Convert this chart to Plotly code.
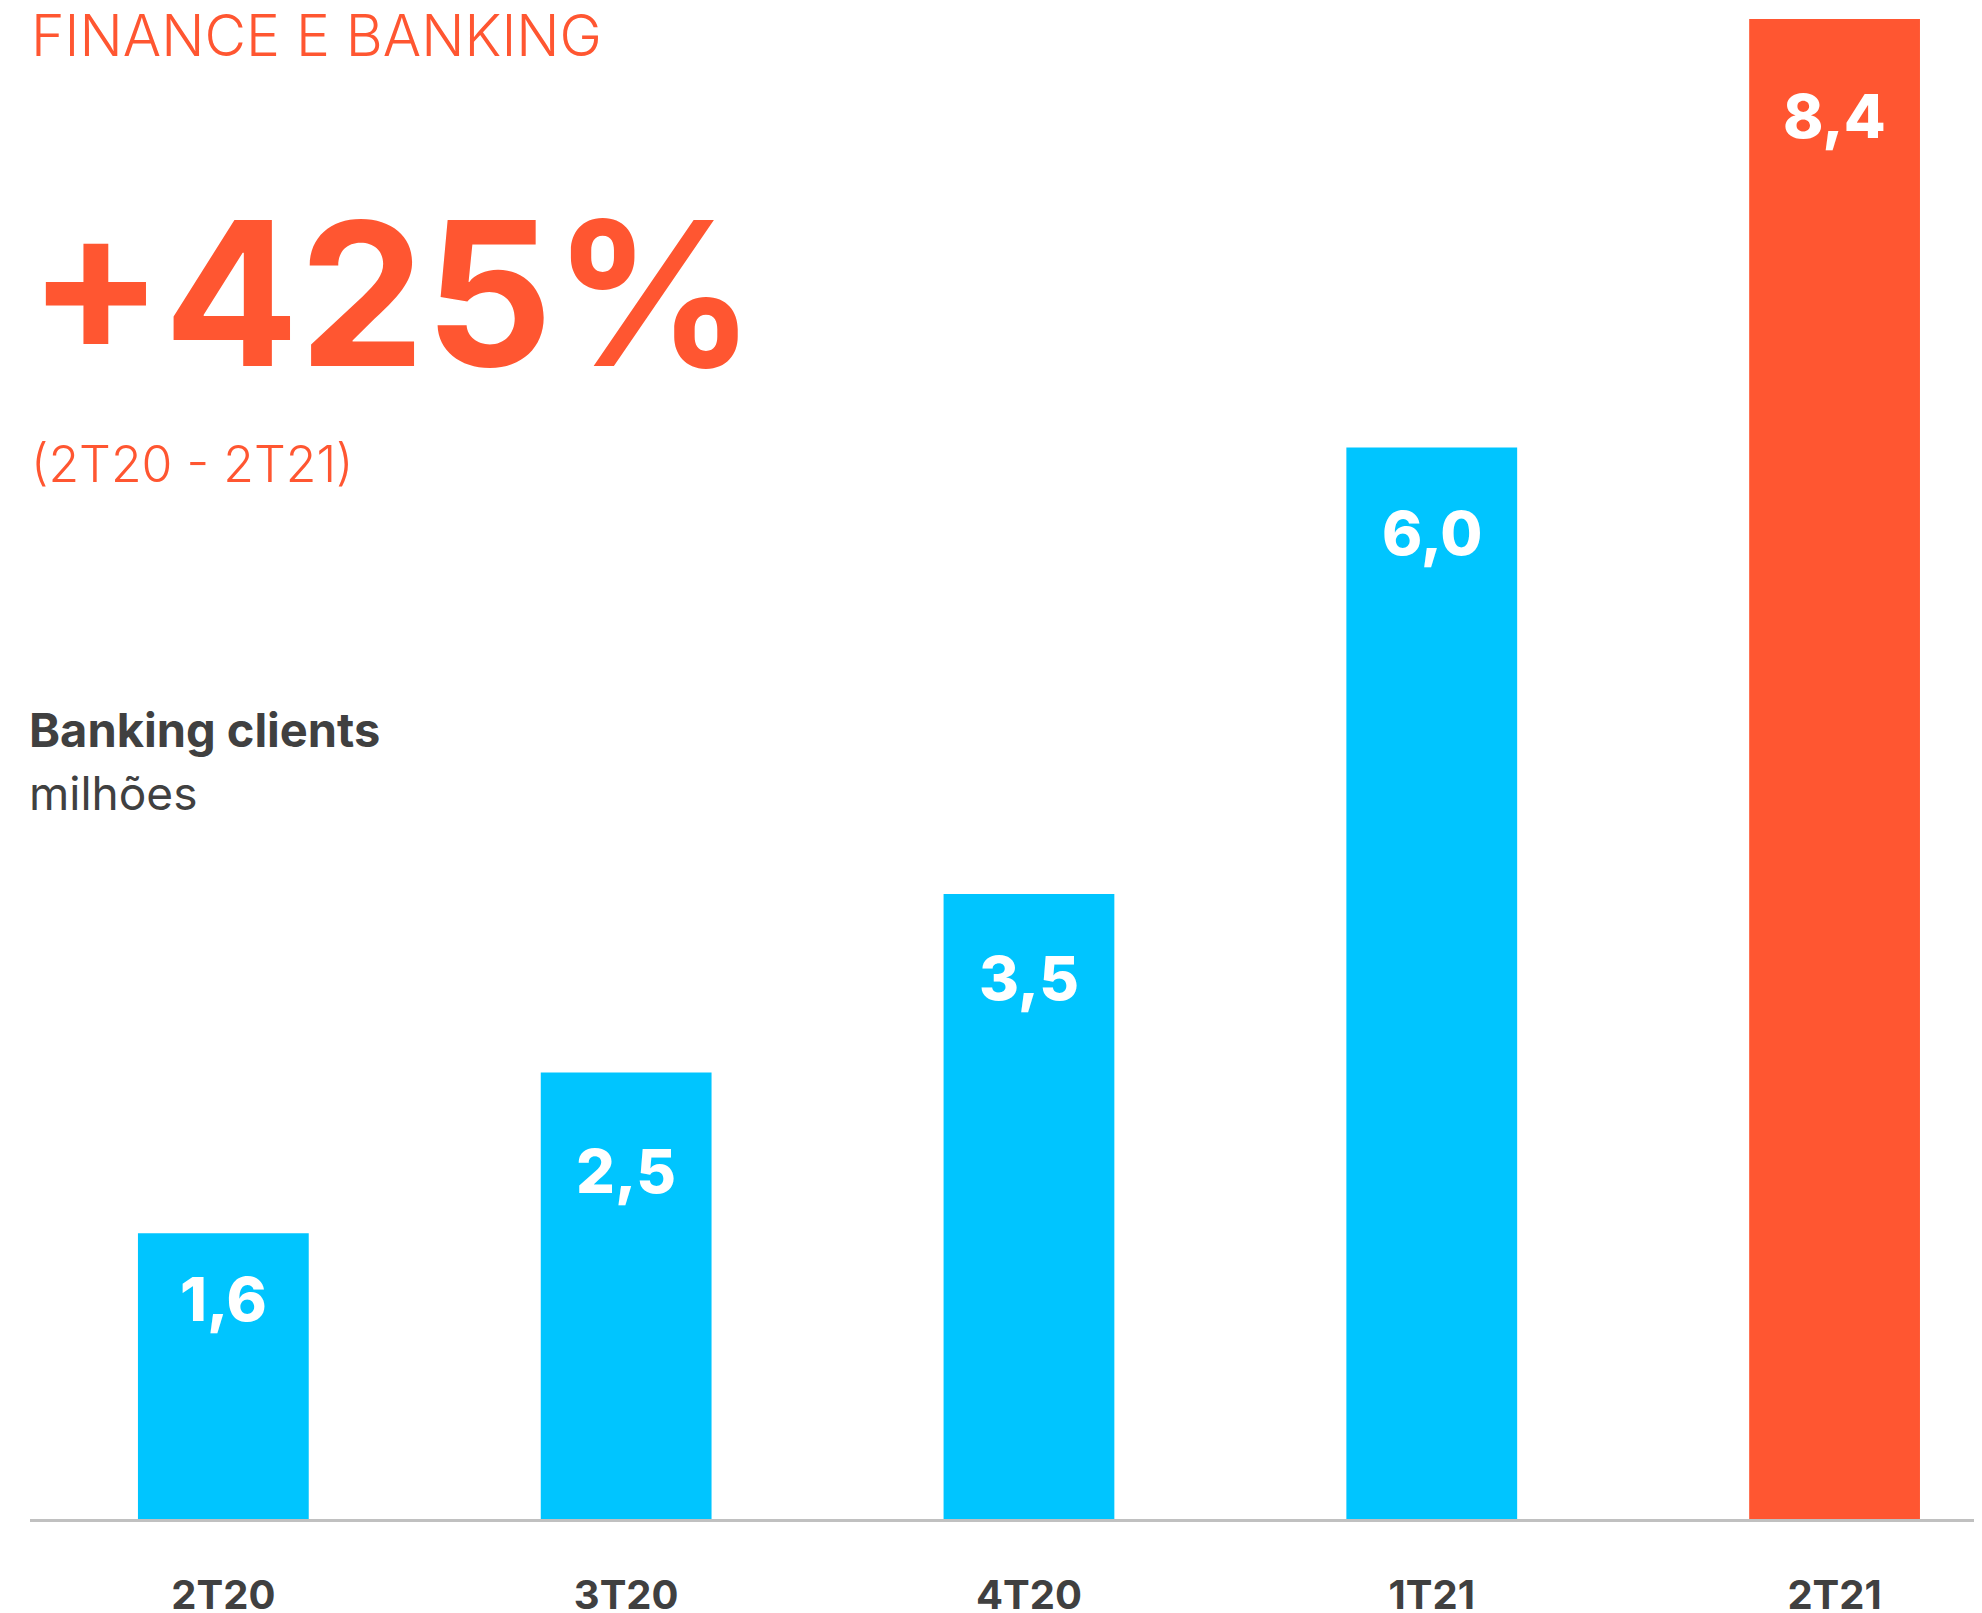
import plotly.graph_objects as go

categories = ["2T20", "3T20", "4T20", "1T21", "2T21"]
values = [1.6, 2.5, 3.5, 6.0, 8.4]
value_labels = ["1,6", "2,5", "3,5", "6,0", "8,4"]

# layout: vertical offset of each value label below its bar top (px)
label_yshift = [-27, -59, -45, -46, -58]

BLUE = "#00C5FF"
ORANGE = "#FF5631"
DARK = "#404040"

OFF = 8  # default page body margin
W, H = 1982 - OFF, 1613 - OFF
L, R, T, B = 22, 0, 11, 94
pw, ph = W - L - R, H - T - B

def px(x):
    return (x - OFF - L) / pw

def py(y):
    return (H - B - (y - OFF)) / ph

colors = [BLUE] * (len(values) - 1) + [ORANGE]

fig = go.Figure(go.Bar(
    x=categories, y=values, marker=dict(color=colors, line=dict(width=0)),
    width=0.424, hoverinfo="skip",
))

for c, v, t, s in zip(categories, values, value_labels, label_yshift):
    fig.add_annotation(x=c, y=v, text=t, showarrow=False, yanchor="top", yshift=s,
                       font=dict(family="Inter", size=61, color="white", weight=800))

fig.add_annotation(xref="paper", yref="paper", x=px(29), y=py(35), xanchor="left", yanchor="middle",
                   text="FINANCE E BANKING", showarrow=False,
                   font=dict(family="Inter", size=57, color=ORANGE, weight=300))
fig.add_annotation(xref="paper", yref="paper", x=px(26), y=py(293), xanchor="left", yanchor="middle",
                   text="+425%", showarrow=False,
                   font=dict(family="Inter", size=200, color=ORANGE, weight=700))
fig.add_annotation(xref="paper", yref="paper", x=px(29), y=py(464), xanchor="left", yanchor="middle",
                   text="(2T20 - 2T21)", showarrow=False,
                   font=dict(family="Inter", size=50, color=ORANGE, weight=300))
fig.add_annotation(xref="paper", yref="paper", x=px(27), y=py(729), xanchor="left", yanchor="middle",
                   text="Banking clients", showarrow=False,
                   font=dict(family="Inter", size=47, color=DARK, weight=700))
fig.add_annotation(xref="paper", yref="paper", x=px(27), y=py(793), xanchor="left", yanchor="middle",
                   text="milhões", showarrow=False,
                   font=dict(family="Inter", size=46, color=DARK, weight=400))

fig.update_layout(
    width=W, height=H,
    margin=dict(l=L, r=R, t=T, b=B, pad=0),
    paper_bgcolor="white", plot_bgcolor="white",
    showlegend=False,
    xaxis=dict(range=[-0.480, 4.366], showgrid=False, zeroline=False, automargin=False,
               showline=True, linecolor="#C0C0C0", linewidth=3,
               ticks="", ticklabelstandoff=39,
               tickfont=dict(family="Inter", size=40, color=DARK, weight=700)),
    yaxis=dict(range=[0, 8.4], visible=False, showgrid=False, zeroline=False, automargin=False),
)

fig.write_html("out.html")
